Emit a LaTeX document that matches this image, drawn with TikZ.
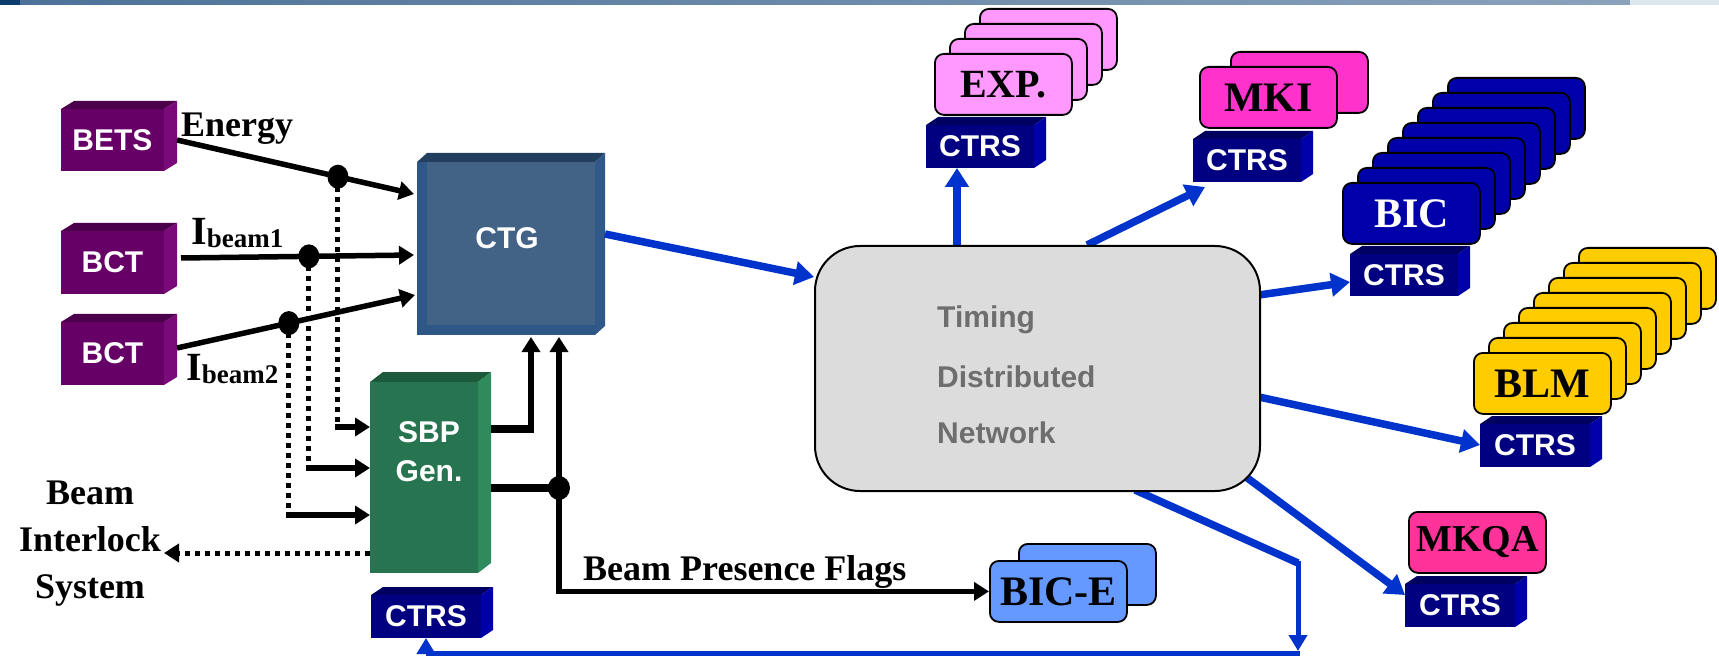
\documentclass[tikz,border=0pt]{standalone}
\usepackage{fontspec}
\setmainfont{Liberation Serif}
\setsansfont{Liberation Sans}
\usetikzlibrary{arrows.meta,calc}
\definecolor{purf}{HTML}{660066}
\definecolor{purt}{HTML}{4A004A}
\definecolor{purr}{HTML}{7A0A7A}
\definecolor{ctgf}{HTML}{2D5885}
\definecolor{ctgt}{HTML}{233F5F}
\definecolor{ctgr}{HTML}{30598A}
\definecolor{ctgin}{HTML}{436386}
\definecolor{grnf}{HTML}{277550}
\definecolor{grnt}{HTML}{1D5A3C}
\definecolor{grnr}{HTML}{2F8A5E}
\definecolor{ctrf}{HTML}{000080}
\definecolor{ctrt}{HTML}{000060}
\definecolor{ctrr}{HTML}{0000AA}
\definecolor{tblue}{HTML}{0033CC}
\definecolor{tdnfill}{HTML}{DCDCDC}
\definecolor{tdntext}{HTML}{6E6E6E}
\definecolor{expc}{HTML}{FF99FF}
\definecolor{mkic}{HTML}{FF33CC}
\definecolor{bicc}{HTML}{0000AA}
\definecolor{blmc}{HTML}{FFCC00}
\definecolor{mkqac}{HTML}{FF3399}
\definecolor{bicec}{HTML}{6699FF}
\definecolor{hbdark}{HTML}{0C3B6E}
\definecolor{hbl}{HTML}{4D7299}
\definecolor{hbr}{HTML}{8AA2BC}
\definecolor{hbend}{HTML}{DDE5EE}

\tikzset{
  sansl/.style={font=\sffamily\bfseries\fontsize{30}{36}\selectfont},
  serifl/.style={font=\bfseries\fontsize{36}{40}\selectfont},
  blk/.style={line width=5.5pt, black},
  blkarr/.style={blk, -{Triangle[length=15pt,width=18pt]}},
  dotl/.style={line width=5pt, black, dash pattern=on 5pt off 5pt},
  blu/.style={line width=7.5pt, tblue},
  bluarr/.style={blu, -{Triangle[length=19pt,width=23pt]}},
  bluthin/.style={line width=5pt, tblue, -{Triangle[length=16pt,width=18pt]}},
  card/.style={draw=black, line width=1.8pt, rounded corners=9pt,
    minimum width=137pt, minimum height=61pt, inner sep=0pt,
    font=\bfseries\fontsize{42}{46}\selectfont},
  jdot/.style={fill=black}
}

% name, x0, y0, x1, y1, dx, dy, colour prefix, text
\newcommand{\cubebox}[9]{%
  \fill[#8t] (#2,#3+#7) -- (#2+#6,#3) -- (#4,#3) -- (#4-#6,#3+#7) -- cycle;
  \fill[#8r] (#4-#6,#3+#7) -- (#4,#3) -- (#4,#5-#7) -- (#4-#6,#5) -- cycle;
  \node[fill=#8f, anchor=north west, inner sep=0pt, outer sep=0pt, align=center,
        minimum width={#4-#6-#2}, minimum height={#5-#3-#7}, sansl, text=white]
        (#1) at (#2,#3+#7) {#9};}

% name, x, y, list of back indices, step x, step y, fill, text
\newcommand{\cardstack}[8]{%
  \foreach \i in {#4} {\node[card, fill=#7, anchor=north west] (#1-\i) at ({#2+\i*#5},{#3-\i*#6}) {};}
  \node[card, fill=#7, anchor=north west] (#1) at (#2,#3) {#8};}

\begin{document}
\begin{tikzpicture}[x=1pt,y=-1pt]
\useasboundingbox (0,0) rectangle (1719,660);
\fill[white] (0,0) rectangle (1719,660);

% header bar
\fill[hbdark] (0,0) rectangle (20,5);
\shade[left color=hbl,right color=hbr] (20,0) rectangle (1630,5);
\fill[hbend] (1630,0) rectangle (1719,5);

% ---------- left side sources ----------
\cubebox{bets}{61}{101}{177}{171}{13}{8}{pur}{BETS}
\cubebox{bcta}{61}{223}{177}{294}{13}{8}{pur}{BCT}
\cubebox{bctb}{61}{314}{177}{385}{13}{8}{pur}{BCT}

% CTG
\cubebox{ctg}{417}{153}{605}{335}{10}{9}{ctg}{}
\fill[ctgin] (427,162) rectangle (595,325);
\node[sansl, text=white] (ctglabel) at (507,238) {CTG};

% SBP Gen.
\cubebox{sbp}{370}{372}{491}{573}{13}{10}{grn}{}
\node[sansl, text=white, align=center, font=\sffamily\bfseries\fontsize{30}{39}\selectfont] (sbplabel) at (429,452) {SBP\\Gen.};

% CTRS boxes
\cubebox{ctrsexp}{926}{117}{1046}{168}{12}{8}{ctr}{CTRS}
\cubebox{ctrsmki}{1193}{131}{1313}{182}{12}{8}{ctr}{CTRS}
\cubebox{ctrsbic}{1350}{246}{1470}{296}{12}{8}{ctr}{CTRS}
\cubebox{ctrsblm}{1480}{416}{1602}{467}{12}{8}{ctr}{CTRS}
\cubebox{ctrsmkqa}{1405}{576}{1527}{627}{12}{8}{ctr}{CTRS}
\cubebox{ctrssbp}{371}{587}{493}{638}{12}{8}{ctr}{CTRS}

% card stacks
\cardstack{exp}{934}{53}{3,2,1}{15}{15}{expc}{\fontsize{40}{44}\selectfont EXP.}
\cardstack{mki}{1199}{66}{1}{31}{15}{mkic}{MKI}
\cardstack{bic}{1342}{182}{7,...,1}{15}{15}{bicc}{\color{white}BIC}
\cardstack{blm}{1473}{352}{7,...,1}{15}{15}{blmc}{BLM}
\cardstack{bice}{989}{560}{1}{29}{17}{bicec}{BIC-E}
\node[card, fill=mkqac, anchor=north west, font=\bfseries\fontsize{38}{42}\selectfont] (mkqa) at (1408,511) {MKQA};

% ---------- black connectors ----------
\coordinate (ens) at (177,140);
\coordinate (ene) at (414,194);
\coordinate (b1s) at (181,258);
\coordinate (b1e) at (414,255);
\coordinate (b2s) at (177,348);
\coordinate (b2e) at (415,295);
\coordinate (j1) at ($(ens)!0.679!(ene)$);
\coordinate (j2) at ($(b1s)!0.549!(b1e)$);
\coordinate (j3) at ($(b2s)!0.47!(b2e)$);
\coordinate (s1) at (370,427);
\coordinate (s2) at (370,468);
\coordinate (s3) at (370,515);

\draw[dotl] (j1) -- (j1 |- s1);
\draw[dotl] (j2) -- (j2 |- s2);
\draw[dotl] (j3) -- (j3 |- s3);
\draw[blkarr] ($(j1 |- s1)+(-2.5,0)$) -- (s1);
\draw[blkarr] ($(j2 |- s2)+(-2.5,0)$) -- (s2);
\draw[blkarr] ($(j3 |- s3)+(-2.5,0)$) -- (s3);

\draw[blkarr] (ens) -- (ene);
\draw[blkarr] (b1s) -- (b1e);
\draw[blkarr] (b2s) -- (b2e);
\fill[jdot] (j1) ellipse (10.5pt and 12pt);
\fill[jdot] (j2) ellipse (10.5pt and 12pt);
\fill[jdot] (j3) ellipse (10.5pt and 12pt);

% beam interlock
\coordinate (bil) at (164,553);
\draw[dotl, -{Triangle[length=15pt,width=18pt]}] ($(sbp.south west)+(0,-20)$) -- (bil);

% SBP -> CTG, SBP -> BIC-E
\coordinate (so1) at (491,429);
\coordinate (so2) at (491,488);
\coordinate (c1) at (531,337);
\coordinate (c2) at (559,337);
\coordinate (j4) at (559,488);
\coordinate (k1) at (531,429);
\draw[blkarr] (k1) -- (c1);
\draw[line width=7.5pt] (so1) -- ($(k1)+(2.75,0)$);
\draw[line width=7.5pt] (so2) -- (j4);
\draw[blkarr] (j4) -- (c2);
\draw[blkarr] (j4) |- (bice.west);
\fill[jdot] (j4) ellipse (11pt and 12pt);

% labels
\node[serifl, anchor=base west, inner sep=0pt] (energy) at (181,137) {Energy};
\node[anchor=base west, inner sep=0pt, font=\bfseries\fontsize{40}{44}\selectfont] (ib1) at (191,245) {I\raisebox{-3pt}{\fontsize{27}{30}\selectfont beam1}};
\node[anchor=base west, inner sep=0pt, font=\bfseries\fontsize{40}{44}\selectfont] (ib2) at (186,380) {I\raisebox{-3pt}{\fontsize{27}{30}\selectfont beam2}};
\node[serifl, align=center, font=\bfseries\fontsize{36}{47}\selectfont] (bis) at (90,544) {Beam\\Interlock\\System};
\node[serifl, anchor=base west, inner sep=0pt] (bpf) at (583,580) {Beam Presence Flags};

% ---------- blue connectors ----------
\coordinate (ctgo) at (605,234);
\coordinate (tin) at (814,277);
\coordinate (t2s) at (957,245);
\coordinate (t2e) at (957,168);
\coordinate (t3s) at (1087,245);
\coordinate (t3e) at (1205,187);
\coordinate (t4s) at (1259,295);
\coordinate (t4e) at (1350,282);
\coordinate (t5s) at (1259,397);
\coordinate (t5e) at (1480,445);
\coordinate (t6s) at (1246,477);
\coordinate (t6e) at (1405,595);
\coordinate (t7s) at (1135,490);
\coordinate (t7a) at (1298,563);
\coordinate (t7b) at (1298,651);
\coordinate (t7c) at (1300,653);

\draw[bluarr] (ctgo) -- (tin);
\draw[bluarr] (t2s) -- (t2e);
\draw[bluarr] (t3s) -- (t3e);
\draw[bluarr] (t4s) -- (t4e);
\draw[bluarr] (t5s) -- (t5e);
\draw[bluarr] (t6s) -- (t6e);
\draw[blu] (t7s) -- (t7a);
\draw[bluthin] ($(t7a)+(0,-2)$) -- (t7b);
\draw[bluthin] (t7c) -| (ctrssbp.south);

% Timing distributed network
\node[draw=black, line width=2pt, fill=tdnfill, rounded corners=45pt, anchor=north west,
      minimum width=445pt, minimum height=245pt] (tdn) at (814,245) {};
\node[sansl, text=tdntext, anchor=base west, inner sep=0pt] (tdn1) at (937,327) {Timing};
\node[sansl, text=tdntext, anchor=base west, inner sep=0pt] (tdn2) at (937,387) {Distributed};
\node[sansl, text=tdntext, anchor=base west, inner sep=0pt] (tdn3) at (937,443) {Network};
\end{tikzpicture}
\end{document}
